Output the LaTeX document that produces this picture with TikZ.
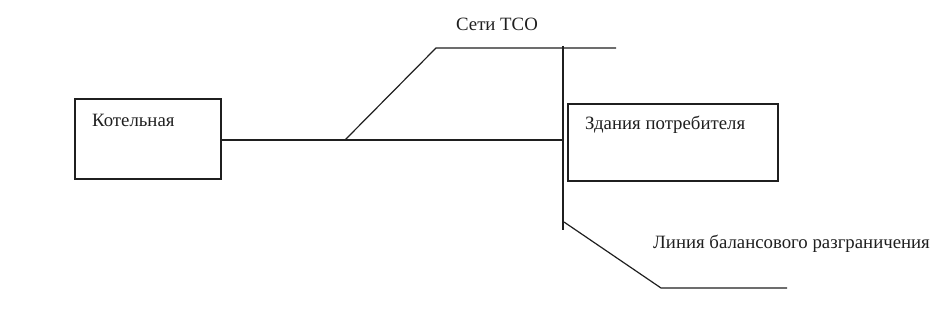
\documentclass[tikz,border=0pt]{standalone}
\usepackage{fontspec}
\setmainfont{Liberation Serif}
\usetikzlibrary{positioning, calc}
\definecolor{ink}{gray}{0.12}

\begin{document}
\begin{tikzpicture}[
  x=1pt, y=-1pt,
  box/.style={draw=ink, line width=1.4pt, minimum width=146pt, minimum height=80pt,
              inner sep=0pt},
  lbl/.style={font=\fontsize{18.8}{21}\selectfont, text=ink, inner sep=0pt},
  ln/.style={draw=ink, line width=1.2pt},
]
\useasboundingbox (0,0) rectangle (947,331);

\node[box] (kot) at (148,139) {};
\node[box, minimum width=210pt, minimum height=77pt] (zd) at (673,142.5) {};
\node[lbl, anchor=west] (kotl) at (92,120) {Котельная};
\node[lbl, anchor=west] (zdl)  at (585,125) {Здания потребителя};

% line of balance boundary
\coordinate (bt) at (563,46);
\coordinate (bb) at (563,230);
\coordinate (bk) at (564,222);
\draw[ln] (bt) -- (bb);

% networks of TSO
\coordinate (j)  at (345,140);
\coordinate (nt) at (436,48);
\coordinate (ne) at (616,48);
\draw[ln] (kot.east |- j) -- (bt |- j);
\draw[ln] (j) -- (nt) -- (ne);
\node[lbl, anchor=south] (tso) at (497,31) {Сети ТСО};

\coordinate (lt) at (661,288);
\coordinate (le) at (787,288);
\draw[ln] (bk) -- (lt) -- (le);
\node[lbl, anchor=west] (lbr) at (653,244) {Линия балансового разграничения};
\end{tikzpicture}
\end{document}
